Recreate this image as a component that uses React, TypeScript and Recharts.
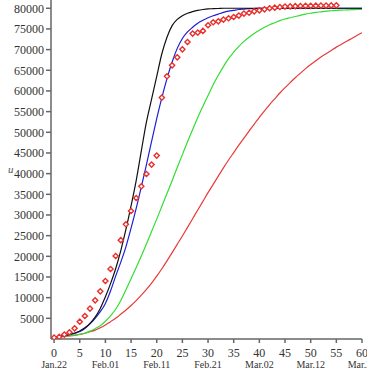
import React from "react";
import { ComposedChart, Line, XAxis, YAxis } from "recharts";

// days since Jan.22
const DAYS = Array.from({ length: 61 }, (_, i) => i);

// observed cumulative cases (red diamonds)
const CASES = [
  350, 500, 1060, 1620, 2590, 4200, 5560, 7350, 9360, 11540, 14030, 16930,
  20080, 23900, 27750, 30960, 34110, 36940, 39910, 42190, 44360, 58400, 63550,
  66200, 68140, 70070, 71840, 73880, 74120, 74510, 75890, 76610, 76850, 77260,
  77580, 77890, 78230, 78720, 78910, 79270, 79500, 79750, 80000, 80150, 80300,
  80400, 80450, 80500, 80550, 80580, 80600, 80620, 80640, 80660, 80680, 80700,
];

const BLACK = [
  500, 650, 850, 1100, 1450, 1950, 2700, 3800, 5300, 7400, 10200, 13400, 17000,
  21400, 26500, 32200, 38300, 45500, 52500, 58000, 63500, 69000, 73000, 75800,
  77300, 78200, 78800, 79200, 79500, 79700, 79850, 79900, 79950, 80000, 80000,
  80000, 80000, 80000, 80000, 80000, 80000, 80000, 80000, 80000, 80000, 80000,
  80000, 80000, 80000, 80000, 80000, 80000, 80000, 80000, 80000, 80000, 80000,
  80000, 80000, 80000, 80000,
];

const BLUE = [
  500, 620, 800, 1020, 1330, 1800, 2550, 3650, 5000, 6600, 8600, 11600, 15200,
  18600, 22300, 26800, 31600, 36800, 42200, 47800, 53300, 58400, 63000, 67000,
  70300, 72700, 74300, 75400, 76400, 77100, 77700, 78200, 78600, 79000, 79300,
  79500, 79700, 79800, 79900, 79950, 80000, 80000, 80000, 80000, 80000, 80000,
  80000, 80000, 80000, 80000, 80000, 80000, 80000, 80000, 80000, 80000, 80000,
  80000, 80000, 80000, 80000,
];

const GREEN = [
  500, 600, 700, 800, 950, 1150, 1400, 1900, 2500, 3200, 4300, 5600, 7200,
  9300, 11900, 14600, 17300, 20100, 23000, 26000, 29000, 32100, 35200, 38300,
  41500, 44600, 47700, 50700, 53600, 56300, 58900, 61500, 63800, 65900, 67800,
  69400, 70800, 72000, 73000, 73900, 74700, 75400, 76000, 76500, 77000, 77400,
  77700, 78000, 78300, 78600, 78800, 79000, 79150, 79300, 79400, 79500, 79550,
  79600, 79650, 79700, 79750,
];

const RED = [
  500, 560, 640, 740, 880, 1100, 1400, 1750, 2150, 2700, 3400, 4200, 5000,
  6000, 7000, 8100, 9300, 10600, 12000, 13500, 15200, 17000, 18900, 20900,
  22900, 24900, 27000, 29100, 31200, 33300, 35400, 37400, 39400, 41400, 43300,
  45100, 46900, 48600, 50300, 52000, 53600, 55200, 56700, 58100, 59500, 60800,
  62000, 63200, 64300, 65400, 66400, 67300, 68200, 69000, 69800, 70600, 71300,
  72000, 72700, 73400, 74100,
];

const X_TICKS = [0, 5, 10, 15, 20, 25, 30, 35, 40, 45, 50, 55, 60];
const Y_TICKS = [
  5000, 10000, 15000, 20000, 25000, 30000, 35000, 40000, 45000, 50000, 55000,
  60000, 65000, 70000, 75000, 80000,
];
const DATE_TICKS = [0, 10, 20, 30, 40, 50, 60];
const DATE_LABELS = ["Jan.22", "Feb.01", "Feb.11", "Feb.21", "Mar.02", "Mar.12", "Mar.22"];

const data = DAYS.map((t, i) => ({
  t,
  cases: CASES[i],
  black: BLACK[i],
  blue: BLUE[i],
  green: GREEN[i],
  red: RED[i],
}));

const FONT = "'Liberation Serif', 'Times New Roman', serif";

function XTick({ x, y, payload }: any) {
  const i = DATE_TICKS.indexOf(payload.value);
  return (
    <g>
      <text x={x} y={y + 12} textAnchor="middle" fontSize={12} fill="#333" fontFamily={FONT}>
        {payload.value}
      </text>
      {i >= 0 && (
        <text x={x} y={y + 23} textAnchor="middle" fontSize={10} fill="#333" fontFamily={FONT}>
          {DATE_LABELS[i]}
        </text>
      )}
    </g>
  );
}

function Diamond({ cx, cy, index }: any) {
  if (cx == null || cy == null || CASES[index] == null) return <g key={`d-${index}`} />;
  const r = 2.6;
  return (
    <path
      key={`d-${index}`}
      d={`M${cx},${cy - r}L${cx + r},${cy}L${cx},${cy + r}L${cx - r},${cy}Z`}
      fill="#fff"
      stroke="#e8302c"
      strokeWidth={1.4}
    />
  );
}

export default function App() {
  return (
    <div style={{ width: 367, height: 380, background: "#fff" }}>
      <style>{"body{margin:0}"}</style>
      <ComposedChart
        width={367}
        height={380}
        data={data}
        margin={{ top: 0, right: 5, bottom: 0, left: 0 }}
      >
        <XAxis
          dataKey="t"
          type="number"
          domain={[-0.6, 60]}
          ticks={X_TICKS}
          height={41}
          stroke="#666"
          strokeWidth={1.5}
          tickSize={4}
          tick={<XTick />}
          interval={0}
          allowDataOverflow
        />
        <YAxis
          type="number"
          domain={[0, 82000]}
          ticks={Y_TICKS}
          width={51}
          stroke="#666"
          strokeWidth={1.5}
          tickSize={5}
          tickMargin={2}
          interval={0}
          allowDataOverflow
          tick={{ fill: "#333", fontSize: 12, fontFamily: FONT }}
          label={{
            value: "u",
            position: "insideLeft",
            offset: 8,
            fill: "#555",
            fontSize: 11,
            fontStyle: "italic",
            fontFamily: FONT,
          }}
        />
        <Line type="monotone" dataKey="red" stroke="#e83a3a" strokeWidth={1.2} dot={false} isAnimationActive={false} />
        <Line type="monotone" dataKey="green" stroke="#33dd33" strokeWidth={1.2} dot={false} isAnimationActive={false} />
        <Line type="monotone" dataKey="blue" stroke="#1f1fd8" strokeWidth={1.2} dot={false} isAnimationActive={false} />
        <Line type="monotone" dataKey="black" stroke="#111" strokeWidth={1.2} dot={false} isAnimationActive={false} />
        <Line
          dataKey="cases"
          stroke="none"
          dot={<Diamond />}
          activeDot={false}
          isAnimationActive={false}
        />
      </ComposedChart>
    </div>
  );
}
